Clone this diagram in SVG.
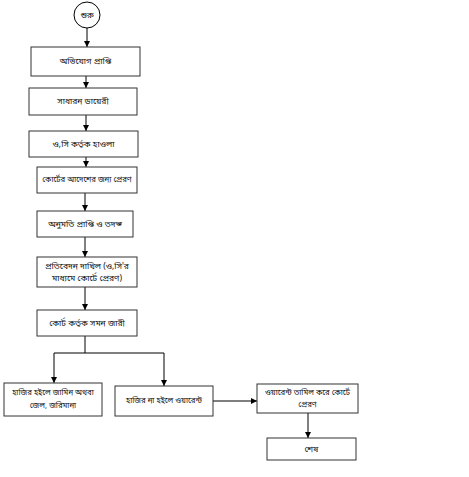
<svg xmlns="http://www.w3.org/2000/svg" width="469" height="477" viewBox="0 0 469 477">
<style>
.box{fill:#fff;stroke:#333;stroke-width:1}
.c{fill:none;stroke:#000;stroke-width:1}
text{font-family:"Noto Sans Bengali","Noto Sans","DejaVu Sans",sans-serif;font-size:8.5px;fill:#111;text-anchor:middle;dominant-baseline:central}
.s{font-size:7.8px}
</style>
<defs>
<marker id="ah" viewBox="0 0 10 10" refX="10" refY="5" markerWidth="6" markerHeight="6" orient="auto" markerUnits="userSpaceOnUse">
<path d="M0,0 L10,5 L0,10 z" fill="#000"/>
</marker>
</defs>
<rect width="469" height="477" fill="#fff"/>
<g id="connectors">
<line class="c" x1="87" y1="28" x2="87" y2="47" marker-end="url(#ah)"/>
<line class="c" x1="86" y1="76" x2="86" y2="88" marker-end="url(#ah)"/>
<line class="c" x1="86" y1="115" x2="86" y2="131" marker-end="url(#ah)"/>
<line class="c" x1="86" y1="157" x2="86" y2="167" marker-end="url(#ah)"/>
<line class="c" x1="85" y1="193" x2="85" y2="211" marker-end="url(#ah)"/>
<line class="c" x1="85" y1="237" x2="85" y2="257" marker-end="url(#ah)"/>
<line class="c" x1="85" y1="287" x2="85" y2="310" marker-end="url(#ah)"/>
<polyline class="c" points="85,336 85,353"/>
<polyline class="c" points="54,353 164,353"/>
<line class="c" x1="54" y1="353" x2="54" y2="383" marker-end="url(#ah)"/>
<line class="c" x1="164" y1="353" x2="164" y2="386" marker-end="url(#ah)"/>
<line class="c" x1="213" y1="401" x2="257" y2="401" marker-end="url(#ah)"/>
<line class="c" x1="308" y1="413" x2="308" y2="438" marker-end="url(#ah)"/>
</g>
<g id="start">
<circle cx="87" cy="15" r="13" fill="#fff" stroke="#000"/>
<text x="87" y="15" font-size="12">শুরু</text>
</g>
<g id="n1"><rect class="box" x="31" y="47" width="109" height="29"/><text x="85.5" y="61.5" font-size="10">অভিযোগ প্রাপ্তি</text></g>
<g id="n2"><rect class="box" x="29" y="88" width="108" height="27"/><text x="83" y="101.5" font-size="10">সাধারন ডায়েরী</text></g>
<g id="n3"><rect class="box" x="29" y="131" width="109" height="26"/><text x="83.5" y="144">ও,সি কর্তৃক হাওলা</text></g>
<g id="n4"><rect class="box" x="37" y="167" width="100" height="26"/><text class="s" x="87" y="180">কোর্টের আদেশের জন্য প্রেরণ</text></g>
<g id="n5"><rect class="box" x="37" y="211" width="96" height="26"/><text x="85" y="224">অনুমতি প্রাপ্তি ও তদন্ত</text></g>
<g id="n6"><rect class="box" x="37" y="257" width="100" height="30"/><text x="87" y="266">প্রতিবেদন দাখিল (ও,সি'র</text><text x="87" y="278">মাধ্যমে কোর্টে প্রেরণ)</text></g>
<g id="n7"><rect class="box" x="37" y="310" width="100" height="26"/><text x="87" y="323">কোর্ট কর্তৃক সমন জারী</text></g>
<g id="n8"><rect class="box" x="4" y="383" width="98" height="33"/><text class="s" x="53" y="393">হাজির হইলে জামিন অথবা</text><text class="s" x="53" y="406">জেল, জরিমানা</text></g>
<g id="n9"><rect class="box" x="115" y="386" width="98" height="30"/><text class="s" x="164" y="401">হাজির না হইলে ওয়ারেন্ট</text></g>
<g id="n10"><rect class="box" x="257" y="384" width="101" height="29"/><text class="s" x="307.5" y="393">ওয়ারেন্ট তামিল করে কোর্টে</text><text class="s" x="307.5" y="405">প্রেরণ</text></g>
<g id="n11"><rect class="box" x="267" y="438" width="89" height="22"/><text x="311.5" y="449">শেষ</text></g>
</svg>
